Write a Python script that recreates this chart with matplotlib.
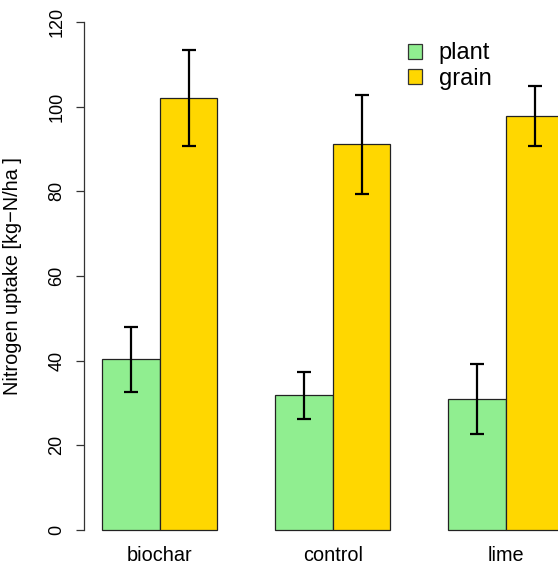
import matplotlib
matplotlib.use("Agg")
import matplotlib.pyplot as plt
import numpy as np

# ------------------------------------------------------------------ data

treatments = ["biochar", "control", "lime"]
series = ["plant", "grain"]
plant_mean = [40.3, 31.8, 31.0]
plant_err = [7.6, 5.5, 8.3]
grain_mean = [102.0, 91.1, 97.9]
grain_err = [11.3, 11.7, 7.1]
y_ticks = [0, 20, 40, 60, 80, 100, 120]

colors = {"plant": "#90EE90", "grain": "#FFD700"}

# ------------------------------------------------------------------ figure

plt.rcParams["font.family"] = ["Liberation Sans", "DejaVu Sans"]

W, H, DPI = 558, 566, 100
fig = plt.figure(figsize=(W / DPI, H / DPI), dpi=DPI)

# R barplot geometry: beside=TRUE, space=c(0,1) -> groups start at 1, 4, 7
x_left, x_right = 0.68, 9.32
y_lo, y_hi = -4.8, 124.8
px0, pxu = 44.33, 57.67          # pixel of x=0, pixels per unit
ax_l = px0 + x_left * pxu
ax_r = px0 + x_right * pxu
ax_w = ax_r - ax_l
ax_h = 548.6
ax = fig.add_axes([ax_l / W, (H - 550.3) / H, ax_w / W, ax_h / H])
ax.set_xlim(x_left, x_right)
ax.set_ylim(y_lo, y_hi)

starts = 1 + 3 * np.arange(len(treatments))
for k, (name, mean, err) in enumerate([("plant", plant_mean, plant_err),
                                       ("grain", grain_mean, grain_err)]):
    xc = starts + k + 0.5
    ax.bar(xc, mean, width=1.0, color=colors[name], edgecolor="#222222",
           linewidth=0.9, label=name, zorder=2)
    ax.errorbar(xc, mean, yerr=err, fmt="none", ecolor="black",
                elinewidth=1.6, capsize=4.7, capthick=1.6, zorder=3)

# y axis in R style
for s in ["top", "right", "bottom"]:
    ax.spines[s].set_visible(False)
ax.spines["left"].set_bounds(0, 120)
ax.spines["left"].set_color("#333333")
ax.spines["left"].set_linewidth(0.9)
ax.set_yticks(y_ticks)
ax.set_yticklabels([str(v) for v in y_ticks], rotation=90, va="center",
                   fontsize=13)
ax.tick_params(axis="y", length=6, width=0.9, color="#333333", pad=7)

# group names, placed like R's barplot names.arg
ax.set_xticks([])
for xs, name in zip(starts + 1, treatments):
    ax.text(xs, -6.0, name, ha="center", va="center", fontsize=14.3,
            clip_on=False)

ax.set_ylabel("Nitrogen uptake [kg\u2212N/ha ]", fontsize=14.4)
ax.yaxis.set_label_coords(-(ax_l - 22) / ax_w, 0.5)

leg = ax.legend(loc="upper left",
                bbox_to_anchor=((408 - ax_l) / ax_w, (550.3 - 42.5) / ax_h),
                frameon=False, fontsize=17, handlelength=0.6, handleheight=0.6,
                handletextpad=0.7, labelspacing=0.15, borderaxespad=0,
                borderpad=0)
for p in leg.get_patches():
    p.set_edgecolor("#333333")

fig.savefig("out.png", dpi=DPI)
